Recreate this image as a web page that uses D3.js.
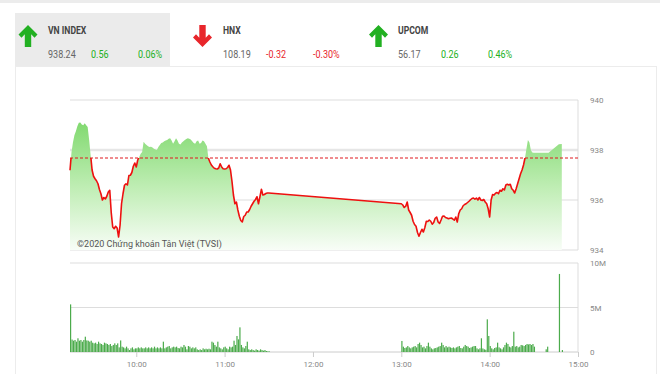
<!DOCTYPE html>
<html>
<head>
<meta charset="utf-8">
<script src="https://cdn.jsdelivr.net/npm/d3@7"></script>
<style>
  body { margin: 0; background: #fff; }
  svg { display: block; font-family: Roboto, "Noto Sans", sans-serif; }
</style>
</head>
<body>
<svg id="chart" width="660" height="374"></svg>
<script>
// header: index name, close, change, % change
var indexNames   = ['VN INDEX', 'HNX', 'UPCOM']
var indexClose   = ['938.24', '108.19', '56.17']
var indexChange  = ['0.56', '-0.32', '0.26']
var indexPercent = ['0.06%', '-0.30%', '0.46%']

var refPrice = 937.68   // previous close
var priceTicks = [934, 936, 938, 940]
var volTicks = [0, 5, 10]
var volLabels = ['0', '5M', '10M']
var timeTicks = ['10:00', '11:00', '12:00', '13:00', '14:00', '15:00']

// one value a minute, morning from 09:15, afternoon from 13:00
var amStart = '09:15'
var amPrice = [
  937.19, 937.9, 938.3, 938.59, 938.75, 938.95, 939.09, 939.10, 939.02, 938.99,
  939.07, 938.99, 938.92, 938.4, 937.8, 937.2, 936.95, 936.85, 936.77, 936.65,
  936.42, 936.25, 936.0, 936.1, 936.04, 936.15, 936.32, 936.39, 935.5, 934.92,
  934.85, 934.95, 934.88, 934.52, 934.99, 935.85, 936.25, 936.59, 936.65, 936.6,
  936.98, 936.99, 937.1, 937.35, 937.48, 937.32, 937.6, 937.72, 937.85, 937.92,
  938.33, 938.25, 938.2, 938.15, 938.12, 938.13, 938.1, 938.05, 938.02, 938.0,
  938.12, 938.2, 938.28, 938.3, 938.35, 938.38, 938.4, 938.45, 938.47, 938.38,
  938.25, 938.35, 938.47, 938.38, 938.25, 938.22, 938.3, 938.35, 938.4, 938.44,
  938.47, 938.45, 938.42, 938.35, 938.28, 938.25, 938.35, 938.38, 938.25, 938.28,
  938.38, 938.35, 938.25, 938.15, 937.67, 937.52, 937.4, 937.33, 937.27, 937.25,
  937.24, 937.28, 937.45, 937.32, 937.25, 937.24, 937.25, 937.3, 937.39, 937.2,
  936.75, 936.2, 935.85, 935.92, 935.6, 935.35, 935.18, 935.12, 935.34, 935.39,
  935.52, 935.52, 935.62, 935.75, 935.85, 935.95, 936.02, 936.13, 935.85, 936.13,
  936.43, 936.2, 936.22, 936.26, 936.28, 936.28
]
var pmStart = '13:00'
var pmPrice = [
  935.85, 935.8, 935.7, 935.75, 935.92, 935.6, 935.5, 935.39, 935.15, 935.02,
  934.95, 934.7, 934.55, 934.7, 934.83, 934.72, 934.9, 935.15, 935.14, 935.2,
  935.15, 935.03, 935.1, 935.27, 935.32, 935.12, 935.06, 935.2, 935.35, 935.36,
  935.3, 935.28, 935.25, 935.27, 935.28, 935.24, 935.19, 935.32, 935.12, 935.45,
  935.6, 935.65, 935.77, 935.82, 935.85, 935.9, 935.95, 936.01, 936.06, 936.08,
  936.03, 936.08, 936.0, 936.1, 936.0, 935.98, 936.02, 935.92, 935.85, 935.65,
  935.32, 936.0, 936.22, 936.2, 936.27, 936.3, 936.25, 936.39, 936.35, 936.45,
  936.4, 936.6, 936.63, 936.6, 936.63, 936.45, 936.39, 936.28, 936.45, 936.65,
  936.85, 937.05, 937.2, 937.4, 937.68, 938.05, 938.4, 938.3, 937.99, 937.9,
  937.89
]
var atcTimes = ['14:40', '14:47', '14:49']
var atcPrice = [937.89, 938.23, 938.24]

// volume, millions of shares
var amVolume = [
  5.35, 1.4, 1.27, 1.35, 1.16, 1.54, 1.27, 1.35, 1.16, 1.35,
  1.72, 1.3, 1.27, 1.16, 1.27, 1.05, 0.97, 1.05, 0.9, 1.16,
  0.97, 0.9, 0.79, 1.05, 0.97, 0.9, 0.79, 0.9, 0.67, 0.79,
  0.97, 0.79, 0.97, 0.52, 1.3, 0.6, 0.52, 0.41, 0.6, 0.41,
  0.22, 0.41, 0.52, 0.3, 0.41, 0.41, 0.52, 0.41, 0.52, 0.41,
  0.41, 0.52, 0.41, 0.52, 0.41, 0.52, 0.41, 0.6, 0.41, 0.52,
  0.41, 0.52, 0.41, 1.16, 0.41, 0.52, 0.6, 0.67, 0.41, 0.52,
  0.6, 0.52, 0.6, 0.45, 0.41, 0.6, 0.52, 0.79, 0.6, 0.3,
  0.67, 0.6, 0.41, 0.52, 0.41, 0.52, 0.3, 0.22, 0.3, 0.22,
  0.41, 0.3, 0.37, 0.3, 0.37, 0.3, 1.16, 1.05, 0.79, 0.6,
  1.16, 0.52, 0.41, 0.3, 0.52, 0.6, 0.41, 0.3, 0.6, 0.52,
  0.6, 1.27, 0.79, 1.8, 1.42, 2.77, 0.79, 0.52, 0.41, 0.67,
  1.16, 0.3, 0.22, 0.3, 0.22, 0.15, 0.3, 0.22, 0.15, 0.3,
  0.22, 0.15, 0.22, 0.11, 0.08, 0.06
]
var pmVolume = [
  1.24, 0.6, 0.45, 0.52, 0.67, 0.52, 0.41, 0.52, 0.6, 0.67,
  0.52, 0.9, 1.05, 0.79, 0.52, 0.6, 0.41, 0.67, 1.05, 0.6,
  0.41, 0.3, 0.41, 0.45, 0.52, 0.6, 0.67, 1.05, 0.79, 0.52,
  0.67, 0.52, 0.6, 0.52, 0.45, 0.52, 0.41, 0.52, 0.6, 0.67,
  0.45, 0.41, 0.6, 0.79, 0.67, 0.6, 0.45, 0.52, 0.6, 0.67,
  0.67, 0.41, 0.3, 0.41, 1.54, 0.4, 0.3, 0.25, 3.67, 1.8,
  0.67, 0.41, 0.3, 0.45, 0.52, 1.05, 0.52, 0.41, 0.3, 0.52,
  0.79, 1.05, 0.9, 0.6, 0.52, 0.67, 2.28, 0.6, 0.67, 0.52,
  0.6, 0.79, 0.75, 0.67, 0.79, 0.9, 0.85, 0.9, 0.79, 0.9,
  0.6
]
var atcVolTimes = ['14:38', '14:39', '14:47', '14:49']
var atcVolume = [0.3, 0.6, 8.77, 0.22]

var parseTime = d3.timeParse('%H:%M')
var GREEN = '#22b022', RED = '#e8262b'

function session(start, values) {
  var t0 = parseTime(start)
  return values.map(function(v, i) { return { t: d3.timeMinute.offset(t0, i), v: v } })
}
function pairs(times, values) {
  return times.map(function(t, i) { return { t: parseTime(t), v: values[i] } })
}

var prices = session(amStart, amPrice).concat(session(pmStart, pmPrice), pairs(atcTimes, atcPrice))
var volumes = session(amStart, amVolume).concat(session(pmStart, pmVolume), pairs(atcVolTimes, atcVolume))

var svg = d3.select('#chart')

// ---- header ----
svg.append('rect').attr('x', 0).attr('y', 0).attr('width', 660).attr('height', 3).attr('fill', '#ececec')
svg.append('rect').attr('x', 15).attr('y', 13).attr('width', 155).attr('height', 53).attr('fill', '#ebebeb')
svg.append('rect').attr('x', 15.5).attr('y', 66.5).attr('width', 641).attr('height', 330)
  .attr('fill', 'none').attr('stroke', '#ececec')

var blockX = [48, 223, 398]
var arrowX = [28, 202.5, 378.5]

indexNames.forEach(function(name, i) {
  var up = indexChange[i].charAt(0) != '-'
  var col = up ? GREEN : RED
  var cx = arrowX[i]
  var p = [[0,0],[9.5,9.5],[6.5,12.8],[3.2,9.3],[3.2,22],[-3.2,22],[-3.2,9.3],[-6.5,12.8],[-9.5,9.5]]
  svg.append('path')
    .attr('d', 'M' + p.map(function(q) { return (cx + q[0]) + ',' + (up ? 25 + q[1] : 47 - q[1]) }).join('L') + 'Z')
    .attr('fill', col)

  var bx = blockX[i]
  svg.append('text').text(name)
    .attr('transform', 'translate(' + bx + ',33.5) scale(0.82,1)')
    .attr('font-size', 10.5).attr('font-weight', 'bold').attr('fill', '#444')
  var row = [[indexClose[i], 0, '#666'], [indexChange[i], 43, col], [indexPercent[i], 90, col]]
  row.forEach(function(r) {
    svg.append('text').text(r[0])
      .attr('transform', 'translate(' + (bx + r[1]) + ',57.5) scale(0.82,1)')
      .attr('font-size', 11).attr('fill', r[2])
  })
})

// ---- price panel ----
var x = d3.scaleTime().domain([parseTime('09:15'), parseTime('15:00')]).range([70, 578])
var y = d3.scaleLinear().domain([934, 940]).range([250, 100])
var yv = d3.scaleLinear().domain([0, 10]).range([352, 263])

var defs = svg.append('defs')
var grad = defs.append('linearGradient').attr('id', 'fillGrad')
  .attr('gradientUnits', 'userSpaceOnUse').attr('x1', 0).attr('x2', 0).attr('y1', 115).attr('y2', 250)
grad.append('stop').attr('offset', 0).attr('stop-color', '#7ad768')
grad.append('stop').attr('offset', 0.55).attr('stop-color', '#c1eeb6')
grad.append('stop').attr('offset', 1).attr('stop-color', '#f8fdf7')

defs.append('clipPath').attr('id', 'belowRef').append('rect')
  .attr('x', 60).attr('y', y(refPrice)).attr('width', 530).attr('height', 250 - y(refPrice))

// grid
priceTicks.forEach(function(v) {
  svg.append('line').attr('x1', 70).attr('x2', 578).attr('y1', y(v)).attr('y2', y(v))
    .attr('stroke', v == 938 ? '#e6e6e6' : '#dddddd').attr('stroke-width', v == 938 ? 2.5 : 1)
})
svg.append('line').attr('x1', 578).attr('x2', 578).attr('y1', 100).attr('y2', 250).attr('stroke', '#dddddd')

svg.append('path').datum(prices)
  .attr('d', d3.area().x(function(d) { return x(d.t) }).y0(y(934)).y1(function(d) { return y(d.v) }))
  .attr('fill', 'url(#fillGrad)')

svg.append('line').attr('x1', 70).attr('x2', 578).attr('y1', y(refPrice)).attr('y2', y(refPrice))
  .attr('stroke', '#e0191f').attr('stroke-width', 1).attr('stroke-dasharray', '3,2')

svg.append('path').datum(prices)
  .attr('d', d3.line().x(function(d) { return x(d.t) }).y(function(d) { return y(d.v) }))
  .attr('fill', 'none').attr('stroke', '#ee1010').attr('stroke-width', 1.6)
  .attr('stroke-linejoin', 'round').attr('clip-path', 'url(#belowRef)')

svg.append('text').text('\u00a92020 Chứng khoán Tân Việt (TVSI)')
  .attr('x', 77).attr('y', 247).attr('font-size', 9).attr('fill', '#555')

svg.append('g').attr('transform', 'translate(590,0)')
  .call(d3.axisRight(y).tickValues(priceTicks).tickSize(0).tickPadding(0).tickFormat(d3.format('d')))
  .call(function(g) { g.select('.domain').remove() })
  .selectAll('text').attr('font-size', 8).attr('fill', '#888').attr('font-family', 'Roboto')

// ---- volume panel ----
volTicks.forEach(function(v) {
  svg.append('line').attr('x1', 70).attr('x2', 578).attr('y1', yv(v)).attr('y2', yv(v))
    .attr('stroke', v == 0 ? '#cccccc' : '#dddddd')
})
svg.append('line').attr('x1', 578).attr('x2', 578).attr('y1', 263).attr('y2', 352).attr('stroke', '#dddddd')

svg.selectAll('rect.vol').data(volumes).enter().append('rect')
  .attr('class', 'vol')
  .attr('x', function(d) { return x(d.t) })
  .attr('y', function(d) { return yv(d.v) })
  .attr('width', 1.2)
  .attr('height', function(d) { return yv(0) - yv(d.v) })
  .attr('fill', '#4bab4b')

svg.append('g').attr('transform', 'translate(590,0)')
  .call(d3.axisRight(yv).tickValues(volTicks).tickSize(0).tickPadding(0)
    .tickFormat(function(d, i) { return volLabels[i] }))
  .call(function(g) { g.select('.domain').remove() })
  .selectAll('text').attr('font-size', 8).attr('fill', '#888').attr('font-family', 'Roboto')

svg.append('g').attr('transform', 'translate(0,352)')
  .call(d3.axisBottom(x).tickValues(timeTicks.map(parseTime)).tickSize(5).tickPadding(4)
    .tickFormat(d3.timeFormat('%H:%M')))
  .call(function(g) { g.select('.domain').remove() })
  .call(function(g) { g.selectAll('line').attr('stroke', '#cccccc') })
  .selectAll('text').attr('font-size', 8).attr('fill', '#888').attr('font-family', 'Roboto')
</script>
</body>
</html>
